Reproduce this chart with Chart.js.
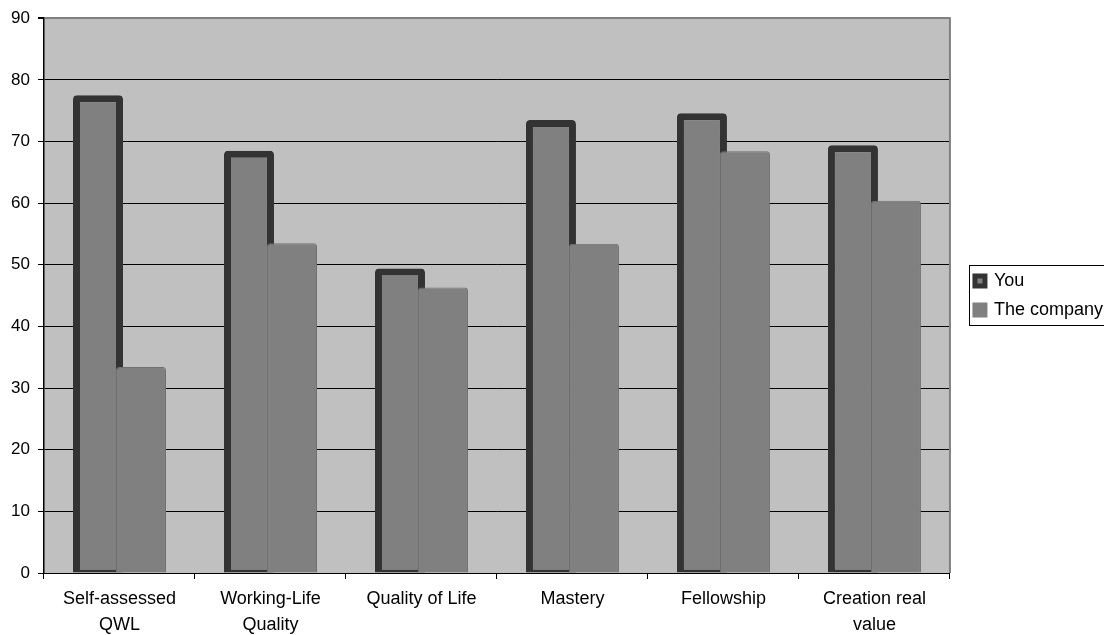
<!DOCTYPE html>
<html>
<head>
<meta charset="utf-8">
<script src="https://cdn.jsdelivr.net/npm/chart.js@4.4.1/dist/chart.umd.min.js"></script>
<style>
  html, body { margin: 0; padding: 0; background: #fff; }
  #wrap { width: 1104px; height: 635px; }
</style>
</head>
<body>
<div id="wrap"><canvas id="qwlChart"></canvas></div>
<script>
const categories = [['Self-assessed', 'QWL'], ['Working-Life', 'Quality'], 'Quality of Life', 'Mastery', 'Fellowship', ['Creation real', 'value']];
const youScores = [77.5, 68.5, 49.4, 73.5, 74.6, 69.4];
const companyScores = [33.4, 53.5, 46.3, 53.4, 68.4, 60.4];
const yTickValues = [0, 10, 20, 30, 40, 50, 60, 70, 80, 90];

Chart.defaults.font.family = "'Liberation Sans', Arial, sans-serif";
Chart.defaults.color = '#000';

const legendShiftX = 14;
const legendShiftY = -31;

// grey plot area, right frame line, boxed legend
const plotFrame = {
  id: 'plotFrame',
  beforeDraw(chart) {
    const { ctx, chartArea: a } = chart;
    ctx.save();
    ctx.fillStyle = '#c0c0c0';
    ctx.fillRect(a.left, a.top, a.right - a.left, a.bottom - a.top);
    ctx.restore();
  },
  afterLayout(chart) {
    const lg = chart.legend;
    lg.left += legendShiftX;
    lg.right += legendShiftX;
    lg.top += legendShiftY;
    lg.bottom += legendShiftY;
    (lg.legendHitBoxes || []).forEach(h => { h.left += legendShiftX; h.top += legendShiftY; });
  },
  afterDatasetsDraw(chart) {
    const { ctx, chartArea: a } = chart;
    ctx.save();
    ctx.strokeStyle = '#808080';
    ctx.lineWidth = 2;
    ctx.beginPath();
    ctx.moveTo(a.right, a.top - 1);
    ctx.lineTo(a.right, a.bottom);
    ctx.stroke();
    ctx.restore();
  },
  afterDraw(chart) {
    const { ctx, legend } = chart;
    const hb = legend.legendHitBoxes;
    if (!hb || !hb.length) return;
    const last = hb[hb.length - 1];
    const top = Math.round(hb[0].top - 7);
    const bottom = Math.round(last.top + last.height + 6);
    const left = Math.round(legend.left + legend.options.labels.padding - 6);
    ctx.save();
    ctx.strokeStyle = '#000';
    ctx.lineWidth = 1;
    ctx.strokeRect(left + 0.5, top + 0.5, chart.width, bottom - top);
    ctx.restore();
  }
};

new Chart(document.getElementById('qwlChart'), {
  type: 'bar',
  data: {
    labels: categories,
    datasets: [
      {
        label: 'You',
        data: youScores,
        stack: 'left',
        order: 2,
        backgroundColor: '#808080',
        borderColor: '#333333',
        borderWidth: { top: 7, left: 7, right: 7, bottom: 3 },
        borderSkipped: false,
        borderRadius: { topLeft: 4, topRight: 4, bottomLeft: 0, bottomRight: 0 }
      },
      {
        label: 'The company',
        data: companyScores,
        stack: 'right',
        order: 1,
        backgroundColor: '#808080',
        borderColor: '#707070',
        borderWidth: 1,
        borderRadius: 3
      },
      // empty series: keeps the 'left' slot first while the company bar paints over You
      { label: '', data: [], stack: 'left', order: 0 }
    ]
  },
  options: {
    responsive: true,
    maintainAspectRatio: false,
    animation: false,
    devicePixelRatio: 1,
    layout: { padding: { top: 18, right: 5, bottom: 0, left: 0 } },
    datasets: {
      bar: { categoryPercentage: 0.5695, barPercentage: 1.163 }
    },
    plugins: {
      tooltip: { enabled: false },
      legend: {
        position: 'right',
        labels: {
          color: '#000',
          font: { size: 18 },
          boxWidth: 10,
          boxHeight: 10,
          padding: 11,
          filter: item => item.text !== '',
          sort: (a, b) => a.datasetIndex - b.datasetIndex,
          generateLabels(chart) {
            const items = Chart.defaults.plugins.legend.labels.generateLabels(chart);
            items.forEach(it => {
              it.fillStyle = '#808080';
              it.strokeStyle = it.text === 'You' ? '#333333' : '#808080';
              it.lineWidth = 5;
            });
            return items;
          }
        }
      }
    },
    scales: {
      x: {
        offset: true,
        z: 1,
        grid: { display: true, offset: true, drawOnChartArea: false, tickLength: 6, color: '#000' },
        border: { display: true, color: '#000', width: 1 },
        ticks: { font: { size: 18, lineHeight: 1.44 }, padding: 7, maxRotation: 0, autoSkip: false },
        afterFit(s) { s.height = 62; }
      },
      y: {
        min: 0,
        max: 90,
        afterBuildTicks(s) { s.ticks = yTickValues.map(v => ({ value: v })); },
        grid: {
          color: c => (c.tick && c.tick.value === 90 ? '#808080' : '#000'),
          lineWidth: c => (c.tick && c.tick.value === 90 ? 2 : 1),
          tickColor: '#000',
          tickLength: 6
        },
        border: { display: true, color: '#000', width: 1.5 },
        ticks: { font: { size: 17 }, padding: 8 },
        afterFit(s) { s.width = 44; }
      }
    }
  },
  plugins: [plotFrame]
});
</script>
</body>
</html>
